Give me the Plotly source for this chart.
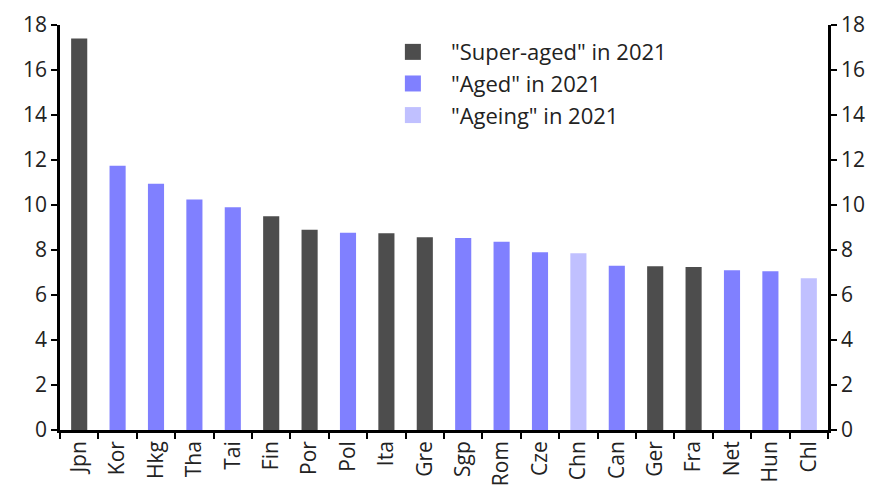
import plotly.graph_objects as go

# Countries in chart order and their values
countries = ["Jpn", "Kor", "Hkg", "Tha", "Tai", "Fin", "Por", "Pol", "Ita", "Gre",
             "Sgp", "Rom", "Cze", "Chn", "Can", "Ger", "Fra", "Net", "Hun", "Chl"]
values = [17.4, 11.75, 10.95, 10.25, 9.9, 9.5, 8.9, 8.77, 8.75, 8.57,
          8.53, 8.37, 7.9, 7.86, 7.3, 7.28, 7.24, 7.1, 7.06, 6.75]
# ageing status in 2021 for each country
status = ["super", "aged", "aged", "aged", "aged", "super", "super", "aged", "super", "super",
          "aged", "aged", "aged", "ageing", "aged", "super", "super", "aged", "aged", "ageing"]

groups = [
    ("super", '"Super-aged" in 2021', "#4d4d4d"),
    ("aged", '"Aged" in 2021', "#8080ff"),
    ("ageing", '"Ageing" in 2021', "#c0c0ff"),
]

fig = go.Figure()
for key, label, colour in groups:
    xs = [c for c, s in zip(countries, status) if s == key]
    ys = [v for v, s in zip(values, status) if s == key]
    fig.add_trace(go.Bar(x=xs, y=ys, name=label, marker_color=colour,
                         marker_line_width=0, width=0.42, showlegend=False))
    # legend entry with a bigger square swatch
    fig.add_trace(go.Scatter(x=[None], y=[None], mode="markers", name=label,
                             marker=dict(symbol="square", size=16, color=colour)))

# dummy trace so the right-hand axis gets drawn
fig.add_trace(go.Scatter(x=countries, y=values, yaxis="y2", mode="markers",
                         marker_opacity=0, showlegend=False, hoverinfo="skip"))

axis_style = dict(range=[0, 18], dtick=2, showline=True, linecolor="black", linewidth=2.5,
                  ticks="outside", ticklen=6, tickwidth=2, tickcolor="black",
                  showgrid=False, zeroline=False, automargin=False,
                  ticklabeloverflow="allow",
                  tickfont=dict(size=21, color="#222"))

fig.update_layout(
    width=880, height=500,
    margin=dict(l=52, r=60, t=17, b=78),
    plot_bgcolor="white", paper_bgcolor="white",
    font=dict(family="Open Sans", color="#222"),
    barmode="overlay",
    xaxis=dict(categoryorder="array", categoryarray=countries, tickangle=-90,
               showline=True, linecolor="black", linewidth=2.5,
               ticks="outside", tickson="boundaries", ticklen=6, tickwidth=2,
               tickcolor="black", tickfont=dict(size=21, color="#222"),
               automargin=False, range=[-0.5, 19.5]),
    yaxis=axis_style,
    yaxis2=dict(axis_style, overlaying="y", side="right"),
    legend=dict(x=0.41, y=0.985, xanchor="left", yanchor="top",
                font=dict(size=22, color="#222"), bgcolor="rgba(0,0,0,0)",
                itemsizing="trace", itemwidth=66, tracegroupgap=0),
    showlegend=True,
)

fig.write_html("out.html")
